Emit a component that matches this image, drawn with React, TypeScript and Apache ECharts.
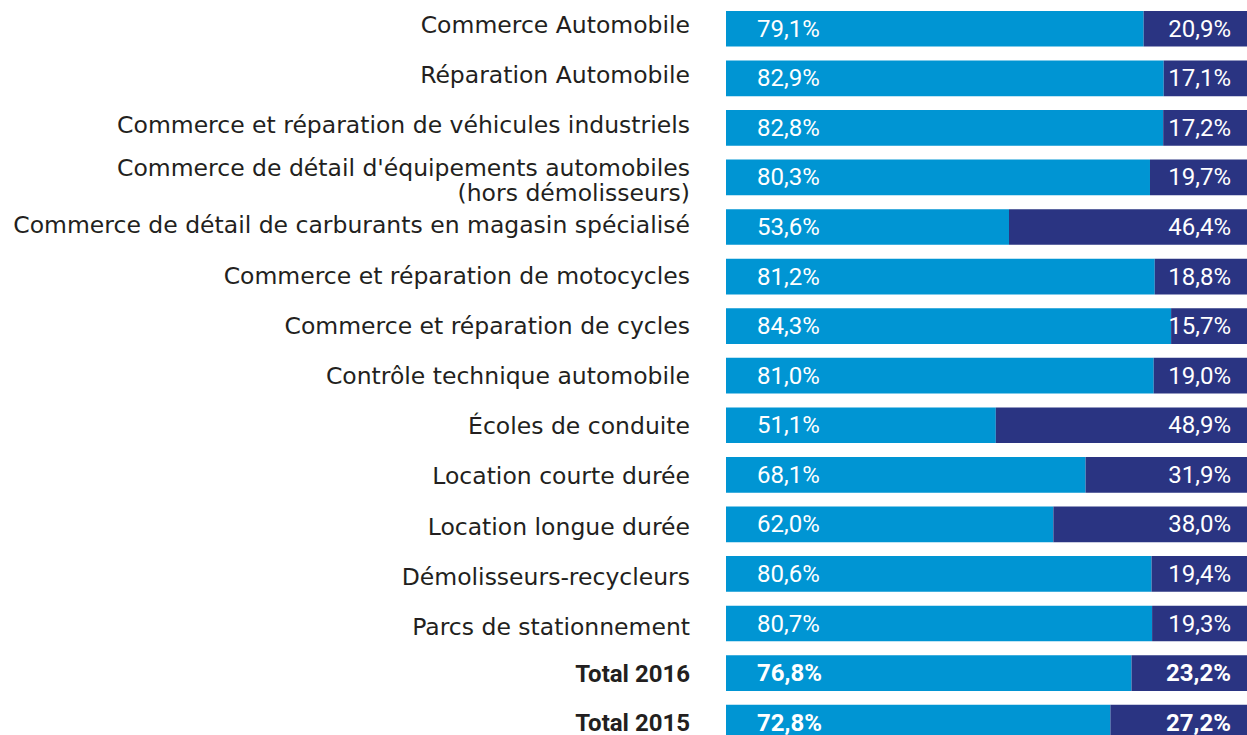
import React, { useEffect, useRef } from "react";
import * as echarts from "echarts";

const categories: string[] = [
  "Commerce Automobile",
  "Réparation Automobile",
  "Commerce et réparation de véhicules industriels",
  "Commerce de détail d'équipements automobiles\n(hors démolisseurs)",
  "Commerce de détail de carburants en magasin spécialisé",
  "Commerce et réparation de motocycles",
  "Commerce et réparation de cycles",
  "Contrôle technique automobile",
  "Écoles de conduite",
  "Location courte durée",
  "Location longue durée",
  "Démolisseurs-recycleurs",
  "Parcs de stationnement",
  "Total 2016",
  "Total 2015",
];

const lightValues: number[] = [79.1, 82.9, 82.8, 80.3, 53.6, 81.2, 84.3, 81.0, 51.1, 68.1, 62.0, 80.6, 80.7, 76.8, 72.8];
const darkValues: number[] = [20.9, 17.1, 17.2, 19.7, 46.4, 18.8, 15.7, 19.0, 48.9, 31.9, 38.0, 19.4, 19.3, 23.2, 27.2];

const LIGHT = "#0095D3";
const DARK = "#2A3482";
const BAR_FONT = "Roboto";
const LABEL_FONT = "DejaVu Sans";
const TEXT = "#231F20";

const fmt = (v: number) => v.toFixed(1).replace(".", ",") + "%";
const isTotal = (c: string) => c.startsWith("Total");

export default function App() {
  const ref = useRef<HTMLDivElement>(null);
  useEffect(() => {
    if (!ref.current) return;
    const chart = echarts.init(ref.current, undefined, { renderer: "svg" });
    const mk = (vals: number[]) =>
      vals.map((v, i) => ({
        value: v,
        label: { fontWeight: isTotal(categories[i]) ? "bold" : "normal" },
      }));
    const labelFormatter = (value: string, idx: number) => {
      if (value === "Total 2016") return "{b|" + value + "}\n{s6| }";
      if (value === "Total 2015") return "{b|" + value + "}\n{s10| }";
      if (value.includes("\n")) {
        const [a, b] = value.split("\n");
        return "{s11| }\n{m|" + a + "}\n{m|" + b + "}";
      }
      return "{m|" + value + "}";
    };
    const reg = { fontSize: 23.5, fontFamily: LABEL_FONT, color: TEXT, lineHeight: 25 };
    chart.setOption({
      animation: false,
      grid: [
        { left: 726, right: -7, top: 4, bottom: -12.4, outerBoundsMode: "none", containLabel: false },
        { left: 726, right: -7, top: -0.6, bottom: -17.4, outerBoundsMode: "none", containLabel: false },
      ],
      xAxis: [
        { type: "value", min: 0, max: 100, show: false, gridIndex: 0 },
        { type: "value", min: 0, max: 100, show: false, gridIndex: 1 },
      ],
      yAxis: [
        {
          type: "category",
          gridIndex: 0,
          inverse: true,
          data: categories,
          axisLine: { show: false },
          axisTick: { show: false },
          axisLabel: { show: false },
        },
        {
          type: "category",
          gridIndex: 1,
          inverse: true,
          data: categories,
          axisLine: { show: false },
          axisTick: { show: false },
          axisLabel: {
            margin: 36,
            fontSize: 23.5,
            fontFamily: LABEL_FONT,
            color: TEXT,
            align: "right",
            formatter: labelFormatter,
            rich: {
              m: reg,
              b: { fontSize: 24, fontFamily: BAR_FONT, fontWeight: "bold", color: TEXT, lineHeight: 24 },
              s6: { fontSize: 6, lineHeight: 6 },
              s10: { fontSize: 9.6, lineHeight: 9.6 },
              s11: { fontSize: 11, lineHeight: 11 },
            },
          },
        },
      ],
      series: [
        {
          type: "bar",
          stack: "s",
          xAxisIndex: 0,
          yAxisIndex: 0,
          data: mk(lightValues),
          itemStyle: { color: LIGHT },
          barCategoryGap: "28%",
          label: {
            show: true,
            position: "insideLeft",
            distance: 31,
            color: "#fff",
            fontSize: 24,
            fontFamily: BAR_FONT,
            formatter: (p: any) => fmt(p.value),
          },
        },
        {
          type: "bar",
          stack: "s",
          xAxisIndex: 0,
          yAxisIndex: 0,
          data: mk(darkValues),
          itemStyle: { color: DARK },
          barCategoryGap: "28%",
          label: {
            show: true,
            position: "insideRight",
            distance: 23,
            color: "#fff",
            fontSize: 24,
            fontFamily: BAR_FONT,
            formatter: (p: any) => fmt(p.value),
          },
        },
      ],
    });
    return () => chart.dispose();
  }, []);
  return (
    <div
      ref={ref}
      style={{ position: "fixed", left: 0, top: 0, width: 1247, height: 735, background: "#fff" }}
    />
  );
}
